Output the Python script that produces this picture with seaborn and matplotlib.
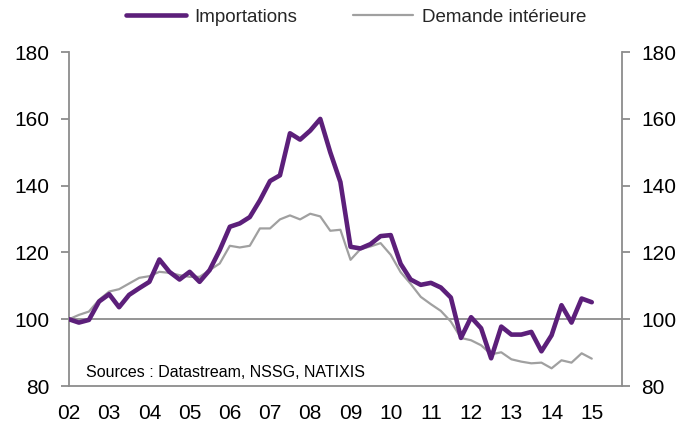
import numpy as np
import pandas as pd
import seaborn as sns
import matplotlib.pyplot as plt
import matplotlib.dates as mdates

# Trimestres 2002T1 - 2015T1
quarters = pd.date_range('2002-01-01', periods=53, freq='QS')

importations = [100, 99, 99.8, 105.3, 107.5, 103.6, 107.3, 109.3, 111.2, 117.9,
                114.2, 111.9, 114.2, 111.2, 114.7, 120.7, 127.7, 128.7, 130.6, 135.6,
                141.4, 143.1, 155.7, 153.8, 156.5, 160, 150, 141.1, 121.7, 121.2,
                122.5, 124.9, 125.2, 116.6, 111.9, 110.3, 110.9, 109.5, 106.5, 94.4,
                100.6, 97.3, 88.3, 97.8, 95.4, 95.4, 96.2, 90.4, 95.2, 104.2,
                99, 106.2, 105.1]

demande = [100, 101.3, 102.3, 105.8, 108.3, 109, 110.7, 112.4, 112.9, 114.2,
           113.9, 113.2, 112.7, 112.7, 114.7, 116.7, 122, 121.5, 122, 127.2,
           127.2, 129.9, 131.1, 129.9, 131.6, 130.8, 126.5, 126.8, 117.8, 121,
           121.8, 122.8, 119.3, 114.1, 110.6, 106.7, 104.5, 102.5, 99.3, 94.4,
           93.7, 92.2, 89.5, 90.1, 88, 87.3, 86.8, 87, 85.3, 87.7,
           87, 89.8, 88.2]

df = pd.DataFrame({'date': quarters, 'Importations': importations,
                   'Demande intérieure': demande})

sns.set_style('white')
plt.rcParams['font.family'] = ['Liberation Sans', 'DejaVu Sans']

purple = '#5C1F7A'
grey = '#A0A0A0'
axis_grey = '#8C8C8C'

fig = plt.figure(figsize=(6.94, 4.24), dpi=100)
ax = fig.add_axes([0.0994, 0.0896, 0.7966, 0.7874])

ax.axhline(100, color=axis_grey, lw=1.3, zorder=1)
sns.lineplot(data=df, x='date', y='Importations', ax=ax, color=purple, lw=3.3,
             label='Importations', zorder=3)
sns.lineplot(data=df, x='date', y='Demande intérieure', ax=ax, color=grey, lw=1.6,
             label='Demande intérieure', zorder=2)

ax.set_xlim(pd.Timestamp('2002-01-01'), pd.Timestamp('2015-10-01'))
ax.set_ylim(80, 180)
ax.set_yticks(range(80, 181, 20))
ax.xaxis.set_major_locator(mdates.YearLocator())
ax.xaxis.set_major_formatter(mdates.DateFormatter('%y'))
ax.set_xlabel('')
ax.set_ylabel('')

ax2 = ax.twinx()
ax2.set_ylim(80, 180)
ax2.set_yticks(range(80, 181, 20))

for a in (ax, ax2):
    a.spines['top'].set_visible(False)
    for side in ('left', 'right', 'bottom'):
        a.spines[side].set_color(axis_grey)
        a.spines[side].set_linewidth(1.3)
    a.tick_params(axis='both', which='major', direction='out', length=6,
                  width=1.3, color=axis_grey, labelsize=15, labelcolor='black',
                  pad=8)
ax.spines['right'].set_visible(False)
ax2.spines['left'].set_visible(False)
ax2.spines['bottom'].set_visible(False)
ax.tick_params(axis='x', pad=7)

ax.legend(loc='center', bbox_to_anchor=(0.519, 1.105), ncol=2, frameon=False,
          fontsize=13.5, handlelength=3.2, handletextpad=0.45,
          columnspacing=3.0, borderaxespad=0)

ax.text(0.031, 0.028, 'Sources : Datastream, NSSG, NATIXIS', transform=ax.transAxes,
        fontsize=11.5, color='black', va='baseline')

fig.savefig('out.png', dpi=100)
